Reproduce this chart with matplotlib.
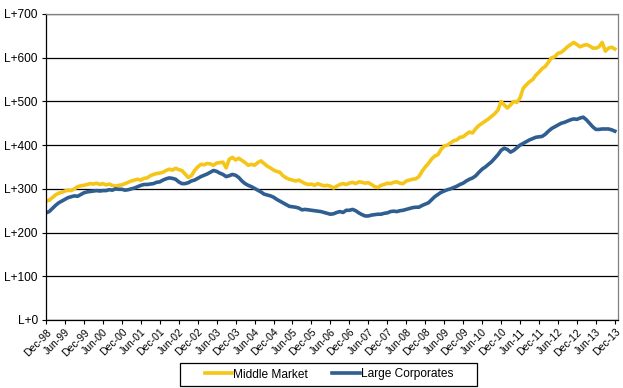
import matplotlib
matplotlib.use('Agg')
import matplotlib.pyplot as plt
from matplotlib.patches import Rectangle
import numpy as np

# monthly spreads, Dec-98 .. Dec-13
middle_market = [
    272, 274, 280, 286, 290, 292, 295,
    297, 296, 300, 305, 307, 308,
    310, 312, 311, 313, 310, 312,
    309, 311, 308, 306, 308, 309,
    312, 315, 318, 320, 322, 320,
    324, 325, 330, 333, 335, 336,
    338, 342, 345, 343, 347, 344,
    342, 334, 326, 330, 342, 350,
    356, 355, 358, 357, 354, 359,
    360, 361, 348, 368, 372, 366,
    370, 365, 360, 354, 356, 354,
    360, 364, 358, 352, 348, 343,
    340, 338, 330, 325, 322, 320,
    318, 320, 316, 312, 310, 311,
    308, 312, 309, 307, 308, 306,
    302, 306, 310, 312, 310, 313,
    315, 312, 316, 315, 313, 314,
    310, 305, 303, 308, 310, 313,
    312, 315, 316, 313, 312, 318,
    320, 322, 323, 328, 340, 350,
    358, 368, 375, 378, 390, 398,
    400, 405, 410, 412, 418, 419,
    425, 430, 428, 438, 445, 450,
    455, 460, 466, 472, 480, 500,
    492, 485, 492, 500, 498, 508,
    530, 538, 545, 550, 560, 567,
    575, 580, 590, 600, 602, 610,
    612, 618, 625, 630, 635, 630,
    625, 628, 630, 627, 622, 622,
    625, 635, 615, 622, 624, 620,
]
large_corporates = [
    245, 248, 255, 262, 268, 272, 276,
    280, 282, 284, 283, 287, 291,
    293, 294, 295, 296, 295, 296,
    296, 298, 297, 300, 299, 299,
    297, 298, 300, 302, 305, 308,
    310, 310, 311, 312, 315, 316,
    320, 323, 325, 324, 322, 316,
    312, 312, 314, 318, 320, 324,
    328, 331, 334, 338, 342, 340,
    336, 333, 328, 330, 333, 331,
    326, 318, 312, 308, 305, 301,
    297, 293, 288, 286, 284, 281,
    276, 272, 268, 264, 260, 259,
    258, 256, 252, 253, 252, 251,
    250, 249, 248, 246, 244, 242,
    243, 246, 248, 246, 251, 251,
    253, 250, 245, 241, 238, 238,
    240, 241, 242, 242, 244, 245,
    248, 249, 248, 250, 251, 253,
    255, 257, 258, 258, 262, 265,
    268, 275, 282, 287, 292, 295,
    298, 300, 303, 306, 310, 313,
    318, 322, 325, 330, 338, 345,
    350, 356, 362, 370, 378, 388,
    393, 390, 384, 388, 394, 400,
    404, 408, 412, 415, 418, 419,
    420, 425, 432, 438, 442, 446,
    450, 452, 455, 458, 460, 459,
    462, 464, 458, 450, 442, 436,
    436, 437, 437, 437, 435, 432,
]
tick_labels = ['Dec-98', 'Jun-99', 'Dec-99', 'Jun-00', 'Dec-00', 'Jun-01',
               'Dec-01', 'Jun-02', 'Dec-02', 'Jun-03', 'Dec-03', 'Jun-04',
               'Dec-04', 'Jun-05', 'Dec-05', 'Jun-06', 'Dec-06', 'Jun-07',
               'Dec-07', 'Jun-08', 'Dec-08', 'Jun-09', 'Dec-09', 'Jun-10',
               'Dec-10', 'Jun-11', 'Dec-11', 'Jun-12', 'Dec-12', 'Jun-13',
               'Dec-13']
y_ticks = [0, 100, 200, 300, 400, 500, 600, 700]

plt.rcParams['font.family'] = ['Liberation Sans', 'DejaVu Sans']

fig = plt.figure(figsize=(6.23, 3.88), dpi=100)
ax = fig.add_axes([46 / 623, 1 - 320 / 388, 572 / 623, 306 / 388])

months = np.arange(len(middle_market))
l1, = ax.plot(months, middle_market, color='#F5C518', lw=2.6, label='Middle Market')
l2, = ax.plot(months, large_corporates, color='#2F5E91', lw=2.6, label='Large Corporates')

ax.set_ylim(0, 700)
ax.set_xlim(0, 181)
ax.set_yticks(y_ticks)
ax.set_yticklabels([f'L+{v}' for v in y_ticks], fontsize=8.6)
ax.yaxis.grid(True, color='black', lw=0.9)
ax.set_axisbelow(True)
ax.tick_params(axis='y', length=3, width=0.8, pad=3)

ax.set_xticks(np.arange(0, len(middle_market), 6))
ax.set_xticklabels(tick_labels, rotation=45, ha='right', rotation_mode='anchor', fontsize=7.5)
ax.tick_params(axis='x', length=3, width=0.8, pad=2)

ax.spines['left'].set_color('black')
ax.spines['bottom'].set_color('black')
ax.spines['right'].set_color('#808080')
ax.spines['top'].set_color('#808080')
for s in ax.spines.values():
    s.set_linewidth(0.9)

# legend box drawn by hand, legend itself frameless
fig.patches.append(Rectangle((180 / 623, 2 / 388), 297 / 623, 23 / 388,
                             transform=fig.transFigure, fill=False,
                             edgecolor='black', lw=0.9))
fig.legend(handles=[l1, l2], loc='center', bbox_to_anchor=(329 / 623, 13.5 / 388),
           ncol=2, fontsize=8.6, frameon=False,
           handlelength=2.3, handletextpad=0.1, columnspacing=2.0,
           borderpad=0.0)

fig.savefig('out.png', dpi=100)
